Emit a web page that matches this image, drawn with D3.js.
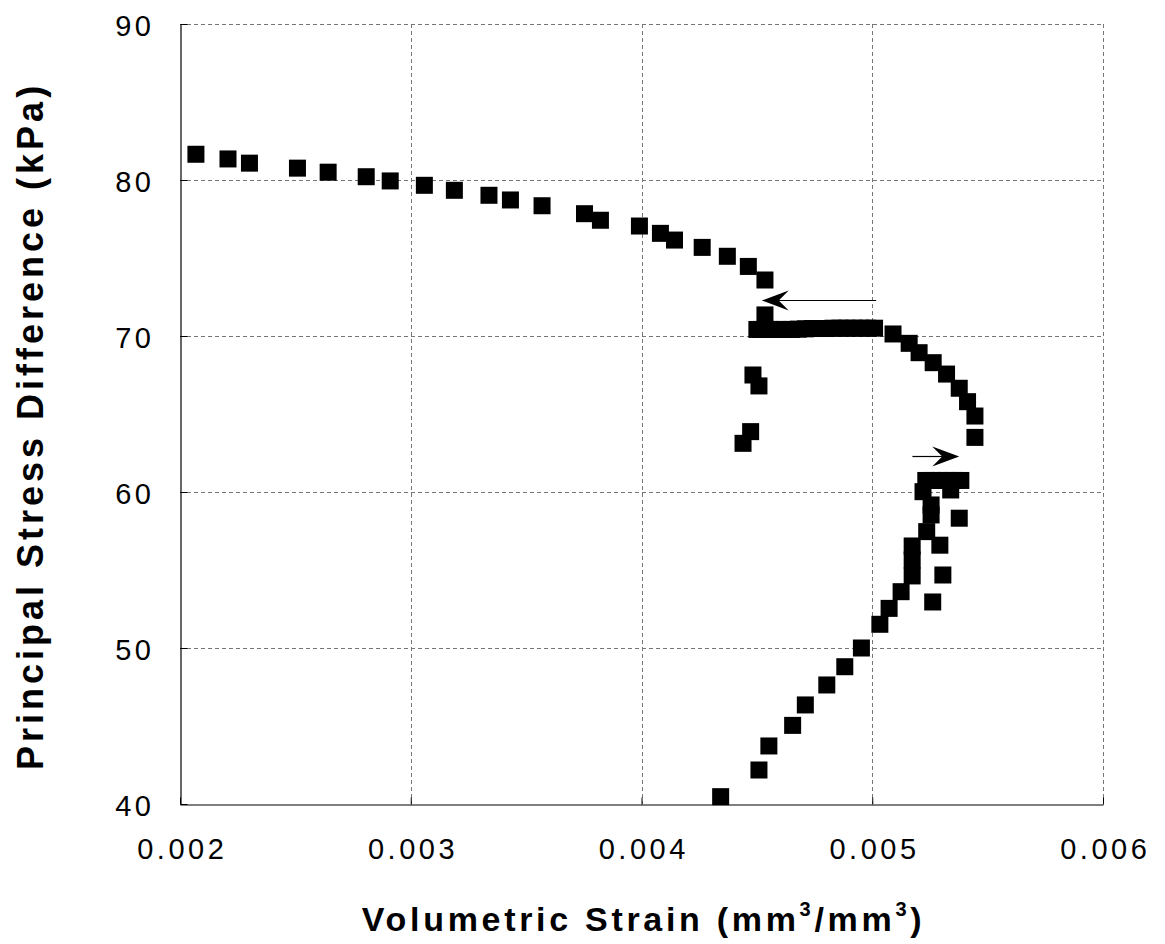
<!DOCTYPE html>
<html>
<head>
<meta charset="utf-8">
<script src="https://cdn.jsdelivr.net/npm/d3@7/dist/d3.min.js"></script>
<style>
  html, body { margin: 0; padding: 0; background: #fff; }
  svg { display: block; }
  text { font-family: "Liberation Sans", Arial, Helvetica, sans-serif; fill: #000; }
</style>
</head>
<body>
<svg id="chart" width="1165" height="944"></svg>
<script>
// ---- data ----
const xTicks = [0.002, 0.003, 0.004, 0.005, 0.006];
const xTickLabels = ["0.002", "0.003", "0.004", "0.005", "0.006"];
const yTicks = [40, 50, 60, 70, 80, 90];
const yTickLabels = ["40", "50", "60", "70", "80", "90"];

// volumetric strain (mm3/mm3)
const strain = [
  // upper branch
  0.002069, 0.002208, 0.002301, 0.002509, 0.002642, 0.002807, 0.002911, 0.003059,
  0.003189, 0.003339, 0.003432, 0.003569, 0.003753, 0.003822, 0.003991, 0.004082,
  0.004143, 0.004263, 0.004372, 0.004463, 0.004535,
  // left drop
  0.004535, 0.004483, 0.004509, 0.004473, 0.004440,
  // plateau at ~70.5
  0.004500, 0.004520, 0.004540, 0.004560, 0.004590, 0.004620, 0.004650, 0.004680,
  0.004710, 0.004740, 0.004770, 0.004800, 0.004830, 0.004860, 0.004890, 0.004920,
  0.004950, 0.004980, 0.005010,
  // right curve
  0.005090, 0.005160, 0.005203, 0.005264, 0.005322, 0.005377, 0.005413, 0.005445, 0.005445,
  // cluster near 61
  0.005232, 0.005262, 0.005292, 0.005322, 0.005352, 0.005384,
  0.005340, 0.005220, 0.005255, 0.005255, 0.005236, 0.005377, 0.005293, 0.005306, 0.005262,
  // lower loading branch
  0.004343, 0.004509, 0.004552, 0.004655, 0.004710, 0.004803, 0.004881, 0.004953,
  0.005033, 0.005073, 0.005125, 0.005173, 0.005173, 0.005173
];
// principal stress difference (kPa)
const stress = [
  81.65, 81.35, 81.08, 80.76, 80.50, 80.21, 79.94, 79.66,
  79.34, 79.02, 78.72, 78.35, 77.84, 77.42, 77.05, 76.58,
  76.15, 75.68, 75.11, 74.46, 73.59,
  71.35, 67.50, 66.80, 63.87, 63.12,
  70.42, 70.42, 70.42, 70.42, 70.42, 70.42, 70.42, 70.44,
  70.46, 70.48, 70.48, 70.48, 70.50, 70.50, 70.50, 70.50,
  70.50, 70.50, 70.50,
  70.13, 69.53, 68.93, 68.29, 67.56, 66.65, 65.79, 64.87, 63.50,
  60.74, 60.74, 60.74, 60.74, 60.74, 60.74,
  60.13, 60.02, 59.17, 58.53, 57.46, 58.32, 56.59, 54.68, 52.95,
  40.47, 42.18, 43.72, 45.04, 46.35, 47.63, 48.80, 50.00,
  51.52, 52.54, 53.61, 54.62, 55.64, 56.54
];

// arrows
const arrowFrom = [0.005017, 0.005174];
const arrowTo   = [0.004521, 0.005377];
const arrowY    = [72.3, 62.3];

(function () {
const svg = d3.select("#chart");
svg.append("rect").attr("width", 1165).attr("height", 944).attr("fill", "#fff");

const pL = 180, pR = 1103, pT = 24, pB = 804;
const x = d3.scaleLinear().domain([0.002, 0.006]).range([pL, pR]);
const y = d3.scaleLinear().domain([40, 90]).range([pB, pT]);

// grid
const grid = svg.append("g").attr("stroke", "#777").attr("stroke-width", 1)
  .attr("stroke-dasharray", "4,3").attr("fill", "none");
grid.selectAll("line.v").data(xTicks.slice(1)).join("line")
  .attr("x1", d => Math.round(x(d)) + 0.5).attr("x2", d => Math.round(x(d)) + 0.5)
  .attr("y1", pT).attr("y2", pB);
grid.selectAll("line.h").data(yTicks.slice(1)).join("line")
  .attr("x1", pL).attr("x2", pR)
  .attr("y1", d => Math.round(y(d)) + 0.5).attr("y2", d => Math.round(y(d)) + 0.5);

// axes
const fs = 29, ls = 3.5;
const yAxis = d3.axisLeft(y).tickValues(yTicks)
  .tickFormat((d, i) => yTickLabels[i]).tickSize(-7).tickSizeOuter(0).tickPadding(26);
const gy = svg.append("g").attr("transform", `translate(${pL + 0.5},0)`).call(yAxis);
gy.selectAll("text").attr("font-size", fs).attr("letter-spacing", ls + "px")
  .attr("dy", "0.40em").attr("font-family", "Liberation Sans, Arial, sans-serif").attr("fill", "#000");

const xAxis = d3.axisBottom(x).tickValues(xTicks)
  .tickFormat((d, i) => xTickLabels[i]).tickSize(-7).tickSizeOuter(0).tickPadding(34);
const gx = svg.append("g").attr("transform", `translate(0,${pB + 0.5})`).call(xAxis);
gx.selectAll("text").attr("font-size", fs).attr("letter-spacing", ls + "px")
  .attr("dx", ls / 2).attr("font-family", "Liberation Sans, Arial, sans-serif").attr("fill", "#000");

[gx, gy].forEach(g => {
  g.select(".domain").attr("stroke", "#000").attr("stroke-width", 1.2);
  g.selectAll(".tick line").attr("stroke", "#000");
});

// points
const pts = strain.map((s, i) => ({ s, p: stress[i] }));
const sz = 17;
svg.append("g").selectAll("rect").data(pts).join("rect")
  .attr("x", d => x(d.s) - sz / 2).attr("y", d => y(d.p) - sz / 2)
  .attr("width", sz).attr("height", sz).attr("fill", "#000");

// arrows
const arrows = arrowFrom.map((a, i) => ({ x1: a, x2: arrowTo[i], yv: arrowY[i] }));
const ag = svg.append("g");
arrows.forEach(a => {
  const X1 = x(a.x1), X2 = x(a.x2), Y = Math.round(y(a.yv)) + 0.5;
  const dir = X2 > X1 ? 1 : -1;
  const L = 27, h = 10, n = 17;
  ag.append("line").attr("x1", X1).attr("x2", X2 - dir * n).attr("y1", Y).attr("y2", Y)
    .attr("stroke", "#000").attr("stroke-width", 1.2);
  ag.append("path")
    .attr("d", `M${X2},${Y} L${X2 - dir * L},${Y - h} L${X2 - dir * n},${Y} L${X2 - dir * L},${Y + h} Z`)
    .attr("fill", "#000");
});

// titles
const xt = svg.append("text").attr("x", (pL + pR) / 2 + 2).attr("y", 931)
  .attr("text-anchor", "middle").attr("font-size", 34).attr("font-weight", "bold")
  .attr("letter-spacing", "3.7px");
xt.append("tspan").text("Volumetric Strain (mm");
xt.append("tspan").attr("font-size", 20).attr("dy", -15).text("3");
xt.append("tspan").attr("dy", 15).text("/mm");
xt.append("tspan").attr("font-size", 20).attr("dy", -15).text("3");
xt.append("tspan").attr("dy", 15).text(")");

svg.append("text").attr("transform", "translate(43,428) rotate(-90)")
  .attr("text-anchor", "middle").attr("font-size", 36).attr("font-weight", "bold")
  .attr("letter-spacing", "4px").attr("dx", 2)
  .text("Principal Stress Difference (kPa)");
})();
</script>
</body>
</html>
